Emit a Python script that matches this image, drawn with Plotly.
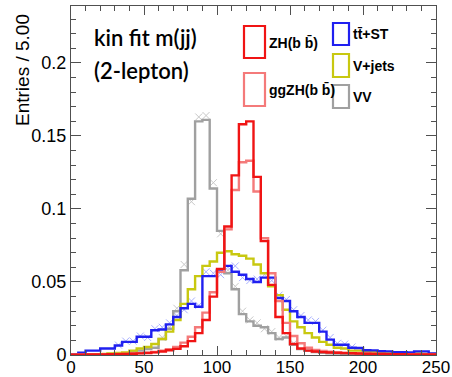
import plotly.graph_objects as go

# ---- binning (5 GeV bins, 0-250) ----
bin_width = 5
bin_edges = [i * bin_width for i in range(51)]
bin_centers = [e + bin_width / 2 for e in bin_edges[:-1]]

# ---- normalised distributions of the kinematic-fit m(jj), 2-lepton channel ----
zh_bb = [0.0002, 0.0002, 0.0003, 0.0003, 0.0004, 0.0005, 0.0006, 0.0007, 0.0009, 0.0011,
         0.0014, 0.0018, 0.0024, 0.0033, 0.0042, 0.0060, 0.0095, 0.0150, 0.0240, 0.0400,
         0.0590, 0.0880, 0.1230, 0.1580, 0.1600, 0.1220, 0.0780, 0.0480, 0.0260, 0.0150,
         0.0075, 0.0045, 0.0030, 0.0024, 0.0020, 0.0017, 0.0015, 0.0013, 0.0012, 0.0010,
         0.0009, 0.0008, 0.0007, 0.0006, 0.0005, 0.0005, 0.0004, 0.0004, 0.0003, 0.0003]

ggzh_bb = [0.0003, 0.0003, 0.0004, 0.0004, 0.0005, 0.0006, 0.0007, 0.0008, 0.0010, 0.0013,
           0.0016, 0.0021, 0.0030, 0.0040, 0.0055, 0.0085, 0.0125, 0.0190, 0.0290, 0.0430,
           0.0570, 0.0860, 0.1130, 0.1320, 0.1330, 0.1120, 0.0800, 0.0560, 0.0370, 0.0220,
           0.0130, 0.0080, 0.0050, 0.0035, 0.0028, 0.0022, 0.0018, 0.0015, 0.0013, 0.0011,
           0.0010, 0.0009, 0.0008, 0.0007, 0.0006, 0.0006, 0.0005, 0.0005, 0.0004, 0.0004]

tt_st = [0.0005, 0.0015, 0.0030, 0.0030, 0.0045, 0.0045, 0.0065, 0.0090, 0.0090, 0.0125,
         0.0125, 0.0170, 0.0175, 0.0210, 0.0260, 0.0320, 0.0350, 0.0330, 0.0540, 0.0540,
         0.0580, 0.0610, 0.0570, 0.0550, 0.0520, 0.0500, 0.0530, 0.0530, 0.0390, 0.0370,
         0.0300, 0.0260, 0.0220, 0.0220, 0.0160, 0.0105, 0.0070, 0.0070, 0.0050, 0.0048,
         0.0033, 0.0032, 0.0026, 0.0025, 0.0020, 0.0020, 0.0018, 0.0025, 0.0025, 0.0010]

v_jets = [0.0003, 0.0004, 0.0005, 0.0006, 0.0008, 0.0010, 0.0014, 0.0018, 0.0030, 0.0045,
          0.0055, 0.0075, 0.0110, 0.0160, 0.0240, 0.0350, 0.0450, 0.0540, 0.0610, 0.0640,
          0.0700, 0.0710, 0.0690, 0.0680, 0.0660, 0.0620, 0.0560, 0.0470, 0.0410, 0.0310,
          0.0230, 0.0190, 0.0150, 0.0120, 0.0090, 0.0070, 0.0050, 0.0045, 0.0030, 0.0030,
          0.0025, 0.0020, 0.0020, 0.0015, 0.0015, 0.0012, 0.0010, 0.0010, 0.0008, 0.0008]

vv = [0.0001, 0.0002, 0.0003, 0.0004, 0.0005, 0.0007, 0.0010, 0.0013, 0.0020, 0.0030,
      0.0040, 0.0050, 0.0110, 0.0180, 0.0300, 0.0580, 0.1070, 0.1600, 0.1610, 0.1140,
      0.0850, 0.0560, 0.0450, 0.0280, 0.0230, 0.0200, 0.0190, 0.0150, 0.0110, 0.0120,
      0.0070, 0.0040, 0.0030, 0.0020, 0.0015, 0.0012, 0.0010, 0.0008, 0.0007, 0.0006,
      0.0005, 0.0004, 0.0004, 0.0003, 0.0003, 0.0003, 0.0002, 0.0002, 0.0002, 0.0002]

# unbinned-sample cross-check points for tt+ST and VV (None = not shown)
tt_st_points = [None, None, None, None, None, None, 0.0068, 0.0095, 0.0095, 0.0130,
                0.0120, 0.0180, 0.0190, 0.0220, 0.0270, 0.0310, 0.0370, 0.0340, 0.0570, 0.0560,
                0.0550, 0.0600, 0.0610, 0.0530, 0.0510, 0.0520, 0.0550, 0.0510, 0.0410, 0.0380,
                0.0310, 0.0270, 0.0240, 0.0230, 0.0170, 0.0120, 0.0080, 0.0075, 0.0055, None,
                None, None, None, None, None, None, None, None, None, None]

vv_points = [None, None, None, None, None, None, None, None, None, None,
             None, None, 0.0120, 0.0190, 0.0320, 0.0620, 0.1050, 0.1630, 0.1640, 0.1180,
             0.0830, 0.0580, 0.0470, 0.0300, 0.0240, 0.0220, 0.0180, 0.0160, 0.0120, 0.0130,
             0.0080, None, None, None, None, None, None, None, None, None,
             None, None, None, None, None, None, None, None, None, None]

x_ticks = [0, 50, 100, 150, 200, 250]
y_ticks = [0, 0.05, 0.1, 0.15, 0.2]
y_tick_labels = ["0", "0.05", "0.1", "0.15", "0.2"]

# ---- styling ----
C_ZH = "#f01414"
C_GGZH = "#f47a7a"
C_TT = "#2020f0"
C_VJ = "#c8c810"
C_VV = "#a0a0a0"
AXIS_COL = "#505050"

W, H = 452, 377
PL, PR, PT, PB = 71, 436, 6, 355   # plot-area edges in pixels


def px_x(px):
    return (px - PL) / (PR - PL)


def px_y(py):
    return (PB - py) / (PB - PT)


fig = go.Figure()


def add_hist(values, color, width=2.4):
    fig.add_trace(go.Scatter(
        x=bin_edges, y=values + [values[-1]], mode="lines",
        line=dict(color=color, width=width, shape="hv"),
        hoverinfo="skip", showlegend=False))


def add_points(values, color):
    fig.add_trace(go.Scatter(
        x=bin_centers, y=values, mode="markers",
        marker=dict(symbol="x-thin-open", size=7, color=color,
                    line=dict(color=color, width=1)),
        hoverinfo="skip", showlegend=False))


add_points(vv_points, "#c8c8c8")
add_points(tt_st_points, "#a8b0ff")
add_hist(vv, C_VV)
add_hist(v_jets, C_VJ)
add_hist(tt_st, C_TT)
add_hist(ggzh_bb, C_GGZH)
add_hist(zh_bb, C_ZH)

# ---- legend drawn as hollow boxes with labels ----
legend_items = [
    ("ZH(b b̄)", C_ZH, 244, 265, 26, 58),
    ("ggZH(b b̄)", C_GGZH, 244, 265, 73, 106),
    ("tt̄+ST", C_TT, 333, 349, 23, 45),
    ("V+jets", C_VJ, 333, 349, 54, 77),
    ("VV", C_VV, 333, 349, 85, 108),
]
shapes = []
annotations = []
for label, col, x0, x1, y0, y1 in legend_items:
    shapes.append(dict(type="rect", xref="paper", yref="paper",
                       x0=px_x(x0), x1=px_x(x1), y0=px_y(y1), y1=px_y(y0),
                       line=dict(color=col, width=2.2), fillcolor="rgba(0,0,0,0)"))
    annotations.append(dict(xref="paper", yref="paper", x=px_x(x1 + 2), y=px_y((y0 + y1) / 2),
                            xanchor="left", yanchor="middle", text=label, showarrow=False,
                            font=dict(family="Liberation Sans", size=14, color="black", weight="bold")))

# channel label
annotations.append(dict(xref="paper", yref="paper", x=px_x(92), y=px_y(37),
                        xanchor="left", yanchor="middle", text="kin fit m(jj)", showarrow=False,
                        font=dict(family="Lato", size=22, color="black", weight=600)))
annotations.append(dict(xref="paper", yref="paper", x=px_x(92), y=px_y(71),
                        xanchor="left", yanchor="middle", text="(2-lepton)", showarrow=False,
                        font=dict(family="Lato", size=22, color="black", weight=600)))

# y-axis title, right-aligned to the top of the axis
annotations.append(dict(xref="paper", yref="paper", x=px_x(23), y=px_y(12),
                        xanchor="center", yanchor="top", text="Entries / 5.00", textangle=-90,
                        showarrow=False, font=dict(family="Liberation Sans", size=19, color="black")))

fig.update_layout(
    width=W, height=H,
    margin=dict(l=PL, r=W - PR, t=PT, b=H - PB, pad=0),
    paper_bgcolor="white", plot_bgcolor="white",
    shapes=shapes, annotations=annotations,
    showlegend=False,
    font=dict(family="Liberation Sans", size=18, color="black"),
)

fig.update_xaxes(
    range=[0, 250], tickvals=x_ticks, ticktext=[str(t) for t in x_ticks],
    ticks="inside", ticklen=9, tickwidth=1, tickcolor=AXIS_COL,
    minor=dict(ticks="inside", ticklen=5, dtick=10, tickcolor=AXIS_COL, showgrid=False),
    showline=True, linecolor=AXIS_COL, linewidth=1, mirror="allticks",
    showgrid=False, zeroline=False, automargin=False, ticklabelstandoff=-3,
    tickfont=dict(family="Liberation Sans", size=17, color="black"),
)
fig.update_yaxes(
    range=[0, 0.239], tickvals=y_ticks, ticktext=y_tick_labels,
    ticks="inside", ticklen=10, tickwidth=1, tickcolor=AXIS_COL,
    minor=dict(ticks="inside", ticklen=5, dtick=0.01, tickcolor=AXIS_COL, showgrid=False),
    showline=True, linecolor=AXIS_COL, linewidth=1, mirror="allticks",
    showgrid=False, zeroline=False, automargin=False,
    tickfont=dict(family="Liberation Sans", size=18, color="black"),
)

fig.write_html("out.html")
